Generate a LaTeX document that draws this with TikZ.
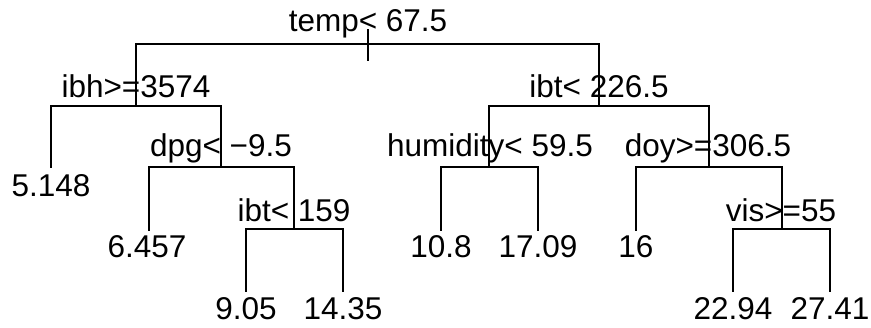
\documentclass[tikz,border=0pt]{standalone}
\usepackage{fontspec}
\setmainfont{Liberation Sans}
\begin{document}
\begin{tikzpicture}[x=1pt,y=-1pt,
  edge/.style={line width=1.4pt,line cap=rect},
  lbl/.style={anchor=base,inner sep=0pt,font=\fontsize{31.5}{31.5}\selectfont}]
\useasboundingbox (0,0) rectangle (871,328);
% split and leaf points
\coordinate (root) at (368,44);
\coordinate (rtop) at (368,30);
\coordinate (rbot) at (368,60);
\coordinate (ibh) at (136,106);
\coordinate (dpg) at (221,167);
\coordinate (ibtA) at (294,229);
\coordinate (ibtB) at (599,106);
\coordinate (hum) at (489,167);
\coordinate (doy) at (709,167);
\coordinate (vis) at (782,229);
\coordinate (l1) at (51,167);
\coordinate (l2) at (149,230);
\coordinate (l3) at (246,291);
\coordinate (l4) at (343,291);
\coordinate (l5) at (441,230);
\coordinate (l6) at (538,230);
\coordinate (l7) at (636,230);
\coordinate (l8) at (733,291);
\coordinate (l9) at (830,291);
% connectors
\draw[edge] (rtop) -- (rbot);
\draw[edge] (root) -| (ibh);
\draw[edge] (root) -| (ibtB);
\draw[edge] (ibh) -| (l1);
\draw[edge] (ibh) -| (dpg);
\draw[edge] (dpg) -| (l2);
\draw[edge] (dpg) -| (ibtA);
\draw[edge] (ibtA) -| (l3);
\draw[edge] (ibtA) -| (l4);
\draw[edge] (ibtB) -| (hum);
\draw[edge] (ibtB) -| (doy);
\draw[edge] (hum) -| (l5);
\draw[edge] (hum) -| (l6);
\draw[edge] (doy) -| (l7);
\draw[edge] (doy) -| (vis);
\draw[edge] (vis) -| (l8);
\draw[edge] (vis) -| (l9);
% labels
\node[lbl] (t0) at (368,32) {temp< 67.5};
\node[lbl] (t1) at (136,98) {ibh>=3574};
\node[lbl] (t2) at (221,157) {dpg< −9.5};
\node[lbl] (t3) at (294,222) {ibt< 159};
\node[lbl] (t4) at (599,98) {ibt< 226.5};
\node[lbl] (t5) at (490,157) {humidity< 59.5};
\node[lbl] (t6) at (708,157) {doy>=306.5};
\node[lbl] (t7) at (781,222) {vis>=55};
\node[lbl] (v1) at (51,197) {5.148};
\node[lbl] (v2) at (147,258) {6.457};
\node[lbl] (v3) at (246,320) {9.05};
\node[lbl] (v4) at (343,320) {14.35};
\node[lbl] (v5) at (441,258) {10.8};
\node[lbl] (v6) at (538,258) {17.09};
\node[lbl] (v7) at (636,258) {16};
\node[lbl] (v8) at (733,320) {22.94};
\node[lbl] (v9) at (830,320) {27.41};
\end{tikzpicture}
\end{document}
